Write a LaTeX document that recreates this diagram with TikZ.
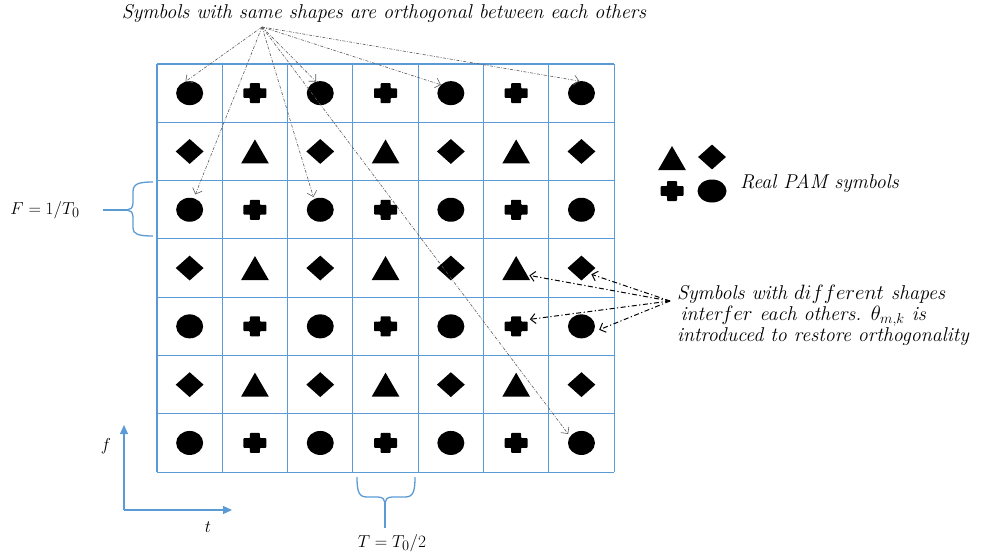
\documentclass[tikz,border=0pt]{standalone}
\usetikzlibrary{shapes.geometric,arrows.meta}
\definecolor{pblue}{RGB}{91,155,213}
\definecolor{pgray}{RGB}{90,90,90}
\begin{document}
\begin{tikzpicture}[x=1pt,y=-1pt,
  gridline/.style={draw=pblue, line width=1.1pt},
  sym/.style={fill=black, draw=none, inner sep=0pt},
  circ/.style={sym, ellipse, minimum width=27pt, minimum height=24pt},
  diam/.style={sym, diamond, minimum width=28pt, minimum height=25pt},
  tri/.style={sym, regular polygon, regular polygon sides=3, minimum size=32pt},
  plussym/.style={inner sep=0pt, minimum width=23pt, minimum height=20pt,
    path picture={\fill[shift={(path picture bounding box.center)}, rounded corners=0.8pt]
      (-11.5,-4.8) -- (-5,-4.8) -- (-5,-10) -- (5,-10) -- (5,-4.8) -- (11.5,-4.8) --
      (11.5,4.8) -- (5,4.8) -- (5,10) -- (-5,10) -- (-5,4.8) -- (-11.5,4.8) -- cycle;}},
  lbl/.style={font=\fontsize{20}{24}\selectfont\itshape, inner sep=0pt},
  mlbl/.style={font=\fontsize{19}{23}\selectfont, inner sep=0pt},
  toparrow/.style={draw=pgray, line width=0.6pt, dash pattern=on 3pt off 1.5pt on 0.8pt off 1.5pt,
    -{Straight Barb[length=5pt,width=10pt]}},
  rarrow/.style={draw=black, line width=1pt, dash pattern=on 5pt off 2.5pt on 1.2pt off 2.5pt,
    -{Straight Barb[length=5pt,width=10pt]}},
  bluebrace/.style={draw=pblue, line width=1.3pt},
  axisarrow/.style={draw=pblue, line width=1.3pt, -{Triangle[length=9pt,width=8pt]}}
]
\useasboundingbox (0,0) rectangle (981,557);

% grid
\foreach \i in {0,...,7} {
  \draw[gridline] ({157+65.3*\i},64) -- ({157+65.3*\i},472);
  \draw[gridline] (157,{64+58.3*\i}) -- (614,{64+58.3*\i});
}

% symbols
\foreach \r in {0,...,6} {
  \foreach \c in {0,...,6} {
    \pgfmathsetmacro\xx{157+65.3*(\c+0.5)}
    \pgfmathsetmacro\yy{64+58.3*(\r+0.5)}
    \pgfmathtruncatemacro\kind{mod(\r,2)*2+mod(\c,2)}
    \ifcase\kind
      \node[circ] (s\r\c) at (\xx,\yy) {};
    \or
      \node[plussym] (s\r\c) at (\xx,\yy) {};
    \or
      \node[diam] (s\r\c) at (\xx,\yy) {};
    \or
      \node[tri] (s\r\c) at (\xx,\yy+4) {};
    \fi
  }
}

% legend
\node[tri] (ltri) at (672,162) {};
\node[diam] (ldiam) at (712,157) {};
\node[plussym] (lplus) at (672,191) {};
\node[circ, minimum width=29pt, minimum height=23pt] (lcirc) at (712,191) {};
\node[lbl, anchor=west] (legtext) at (740,183) {Real PAM symbols};

% top label and arrows
\node[lbl] (title) at (384,13) {Symbols with same shapes are orthogonal between each others};
\coordinate (o1) at (262,27);
\draw[toparrow] (o1) -- (s00.110);
\draw[toparrow] (o1) -- (s02.110);
\draw[toparrow] (o1) -- (s04.140);
\draw[toparrow] (o1) -- (s06.100);
\draw[toparrow, shorten >=4pt] (o1) -- (s20.70);
\draw[toparrow, shorten >=2pt] (o1) -- (s22.120);
\draw[toparrow, shorten >=3pt] (o1) -- (s66.150);

% right label and arrows
\node[lbl, anchor=west, align=left] (rlabel) at (677,315)
  {Symbols with $different$ shapes\\[-3pt]
   \,inter$fer$ each others. $\theta_{m,k}$ is\\[-3pt]
   introduced to restore orthogonality};
\coordinate (o2) at (670,301);
\draw[rarrow, shorten >=2pt] (o2) -- (s35.-15);
\draw[rarrow, shorten >=2pt] (o2) -- (s36.-35);
\draw[rarrow, shorten >=2pt] (o2) -- (s45.30);
\draw[rarrow, shorten >=6pt] (o2) -- (s46.-25);

% left brace
\draw[bluebrace] (153,182) .. controls (138,182) and (133,184) .. (133,192) -- (133,203)
  .. controls (133,208) and (130,210) .. (127,210)
  .. controls (130,210) and (133,212) .. (133,217) -- (133,228)
  .. controls (133,234) and (138,236) .. (153,236);
\draw[bluebrace] (103,210) -- (127,210);
\node[mlbl] (Flabel) at (45,210) {$F = 1/T_0$};

% bottom brace
\draw[bluebrace] (357,477) .. controls (357,492) and (359,497) .. (367,497) -- (378,497)
  .. controls (383,497) and (385,500) .. (385,503)
  .. controls (385,500) and (387,497) .. (392,497) -- (405,497)
  .. controls (413,497) and (415,492) .. (415,477);
\draw[bluebrace] (385,503) -- (385,528);
\node[mlbl] (Tlabel) at (392,543) {$T = T_0/2$};

% axes
\coordinate (orig) at (124,510);
\coordinate (fend) at (124,425);
\coordinate (tend) at (232,510);
\draw[axisarrow] (orig) -- (fend);
\draw[axisarrow] (orig) -- (tend);
\node[mlbl] (flab) at (106,446) {$f$};
\node[mlbl] (tlab) at (208,527) {$t$};
\end{tikzpicture}
\end{document}
